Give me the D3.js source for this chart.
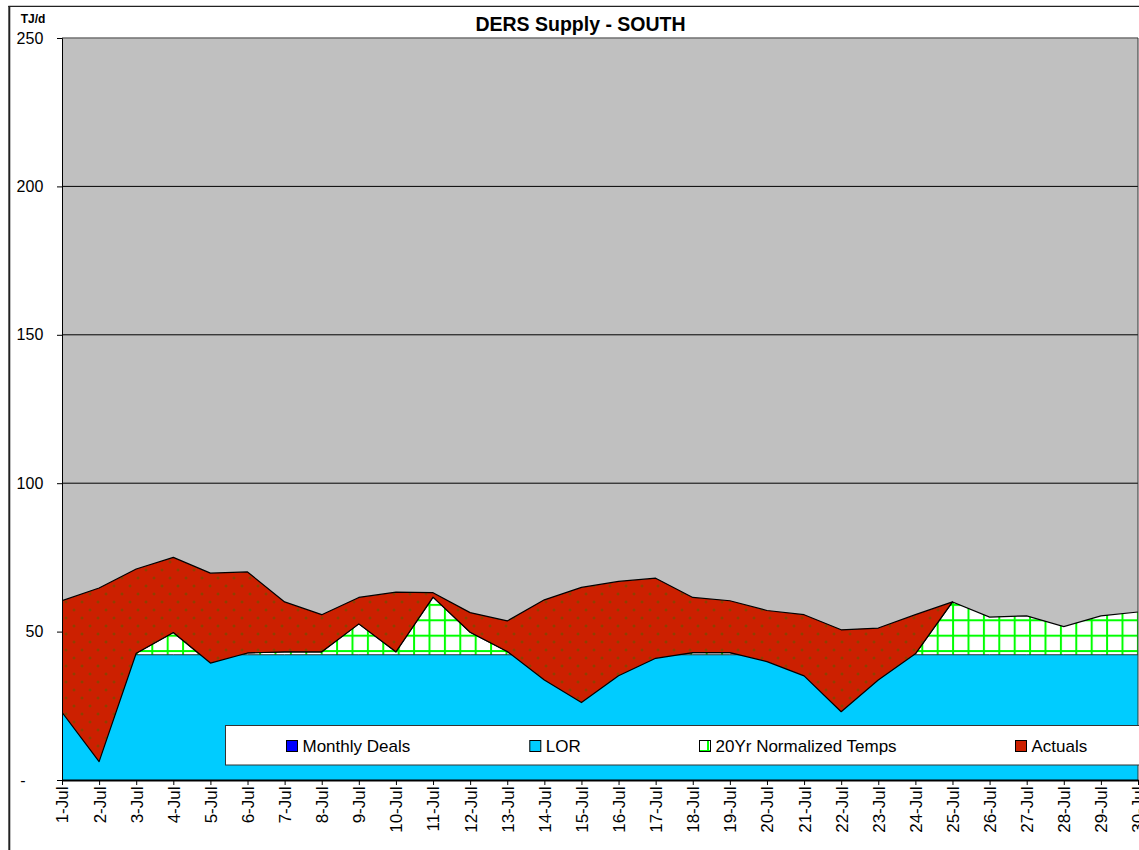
<!DOCTYPE html>
<html>
<head>
<meta charset="utf-8">
<script src="https://cdn.jsdelivr.net/npm/d3@7"></script>
<style>
  body { margin: 0; background: #fff; }
  svg { display: block; }
  text { font-family: Arial, "Liberation Sans", sans-serif; fill: #000; }
</style>
</head>
<body>
<svg id="chart" width="1139" height="850"></svg>
<script>
// DERS Supply - SOUTH, daily TJ/d for July

const days = ['1-Jul', '2-Jul', '3-Jul', '4-Jul', '5-Jul', '6-Jul', '7-Jul', '8-Jul', '9-Jul', '10-Jul',
    '11-Jul', '12-Jul', '13-Jul', '14-Jul', '15-Jul', '16-Jul', '17-Jul', '18-Jul', '19-Jul', '20-Jul',
    '21-Jul', '22-Jul', '23-Jul', '24-Jul', '25-Jul', '26-Jul', '27-Jul', '28-Jul', '29-Jul', '30-Jul'];

const monthlyDeals = [0, 0, 0, 0, 0, 0, 0, 0, 0, 0, 0, 0, 0, 0, 0, 0, 0, 0, 0, 0, 0, 0, 0, 0, 0, 0, 0, 0, 0, 0];

const lor = [42.2, 42.2, 42.2, 42.2, 42.2, 42.2, 42.2, 42.2, 42.2, 42.2, 42.2, 42.2, 42.2, 42.2, 42.2,
    42.2, 42.2, 42.2, 42.2, 42.2, 42.2, 42.2, 42.2, 42.2, 42.2, 42.2, 42.2, 42.2, 42.2, 42.2];

const normalized = [22.8, 6.2, 42.7, 49.7, 39.4, 42.8, 43.2, 43.2, 52.6, 43.2,
    61.6, 49.8, 43.3, 33.7, 26.1, 35.1, 41.0, 42.9, 42.9, 39.9,
    35.1, 23.0, 33.7, 42.5, 60.0, 54.9, 55.3, 51.7, 55.3, 56.6];

const actuals = [60.4, 64.7, 71.1, 75.0, 69.7, 70.1, 60.0, 55.7, 61.5, 63.3,
    63.1, 56.4, 53.6, 60.7, 64.9, 66.9, 68.0, 61.5, 60.4, 57.1,
    55.7, 50.6, 51.2, 55.7, 60.0, null, null, null, null, null];

const seriesNames = ['Monthly Deals', 'LOR', '20Yr Normalized Temps', 'Actuals'];
const yTicks = [0, 50, 100, 150, 200, 250];

const colors = {
    deals: '#0000FF',
    lor: '#00CCFF',
    norm: '#00FF00',
    actuals: '#CC2000',
    plotBg: '#C0C0C0'
};

const svg = d3.select('#chart');
const margin = { top: 38, left: 62 };
const width = 1076;
const height = 742;

// outer chart border (right/bottom edges fall outside the picture)
svg.append('line').attr('x1', 9.3).attr('x2', 9.3).attr('y1', 6).attr('y2', 850)
    .attr('stroke', '#222').attr('stroke-width', 2);
svg.append('line').attr('x1', 8.3).attr('x2', 1139).attr('y1', 6.3).attr('y2', 6.3)
    .attr('stroke', '#222').attr('stroke-width', 1.3);

// patterns
const defs = svg.append('defs');
const hatch = defs.append('pattern')
    .attr('id', 'hatch')
    .attr('patternUnits', 'userSpaceOnUse')
    .attr('width', 15.4).attr('height', 15.4)
    .attr('x', 12.3).attr('y', 11.5);
hatch.append('rect').attr('width', 15.4).attr('height', 15.4).attr('fill', '#fff');
hatch.append('rect').attr('x', 0).attr('y', 0).attr('width', 2).attr('height', 15.4).attr('fill', colors.norm);
hatch.append('rect').attr('x', 0).attr('y', 0).attr('width', 15.4).attr('height', 2).attr('fill', colors.norm);

const dots = defs.append('pattern')
    .attr('id', 'dots')
    .attr('patternUnits', 'userSpaceOnUse')
    .attr('width', 16).attr('height', 16);
dots.append('rect').attr('width', 16).attr('height', 16).attr('fill', colors.actuals);
[[4, 4], [12, 12]].forEach(([cx, cy]) => {
    dots.append('path')
        .attr('d', `M${cx - 1.5},${cy}h3M${cx},${cy - 1.5}v3`)
        .attr('stroke', '#7a4a00').attr('stroke-width', 1);
});

defs.append('clipPath').attr('id', 'plot-clip')
    .append('rect').attr('width', width).attr('height', height);

const g = svg.append('g').attr('transform', `translate(${margin.left},${margin.top})`);

const x = d3.scalePoint().domain(days).range([0, width]);
const y = d3.scaleLinear().domain([0, 250]).range([height, 0]);

// plot background + gridlines
g.append('rect').attr('width', width).attr('height', height).attr('fill', colors.plotBg);
g.append('g')
    .selectAll('line')
    .data(yTicks.filter(t => t > 0 && t < 250))
    .enter().append('line')
    .attr('x1', 0).attr('x2', width)
    .attr('y1', d => y(d)).attr('y2', d => y(d))
    .attr('stroke', '#000').attr('stroke-width', 1);

const plot = g.append('g').attr('clip-path', 'url(#plot-clip)');
const idx = d3.range(days.length);

// 20Yr normalized temps (hatched)
plot.append('path')
    .datum(idx)
    .attr('d', d3.area().x(i => x(days[i])).y0(height).y1(i => y(normalized[i])))
    .attr('fill', 'url(#hatch)');
plot.append('path')
    .datum(idx)
    .attr('d', d3.line().x(i => x(days[i])).y(i => y(normalized[i])))
    .attr('fill', 'none').attr('stroke', '#000').attr('stroke-width', 1.2);

// LOR
plot.append('path')
    .datum(idx)
    .attr('d', d3.area().x(i => x(days[i])).y0(height).y1(i => y(lor[i])))
    .attr('fill', colors.lor);
plot.append('path')
    .datum(idx)
    .attr('d', d3.line().x(i => x(days[i])).y(i => y(lor[i])))
    .attr('fill', 'none').attr('stroke', '#333').attr('stroke-width', 1);

// Monthly deals (all zero)
plot.append('path')
    .datum(idx)
    .attr('d', d3.area().x(i => x(days[i])).y0(height).y1(i => y(monthlyDeals[i])))
    .attr('fill', colors.deals);

// Actuals band, on top of normalized
plot.append('path')
    .datum(idx.filter(i => actuals[i] != null))
    .attr('d', d3.area().x(i => x(days[i])).y0(i => y(normalized[i])).y1(i => y(actuals[i])))
    .attr('fill', 'url(#dots)')
    .attr('stroke', '#000').attr('stroke-width', 1.2).attr('stroke-linejoin', 'round');

// plot frame
g.append('line').attr('x1', 0).attr('x2', width).attr('y1', 0).attr('y2', 0)
    .attr('stroke', '#707070').attr('stroke-width', 1.5);
g.append('line').attr('x1', width).attr('x2', width).attr('y1', 0).attr('y2', height)
    .attr('stroke', '#333').attr('stroke-width', 1);

// axes
const yAxis = g.append('g')
    .call(d3.axisLeft(y).tickValues(yTicks).tickSize(5).tickPadding(13.7)
        .tickFormat(d => d === 0 ? '-' : d));
yAxis.select('.domain').attr('stroke', '#000');
yAxis.selectAll('text').attr('font-size', 16).attr('font-family', 'Arial, "Liberation Sans", sans-serif');
yAxis.selectAll('.tick').filter(d => d === 0).select('text')
    .attr('x', -39).attr('text-anchor', 'middle');

const xAxis = g.append('g')
    .attr('transform', `translate(0,${height})`)
    .call(d3.axisBottom(x).tickSize(5).tickSizeOuter(0));
xAxis.select('.domain').attr('stroke', '#000').attr('stroke-width', 2);
xAxis.selectAll('line').attr('stroke', '#000');
xAxis.selectAll('text')
    .attr('font-size', 17)
    .attr('font-family', 'Arial, "Liberation Sans", sans-serif')
    .attr('transform', 'rotate(-90)')
    .attr('text-anchor', 'end')
    .attr('x', -6.5).attr('y', 0).attr('dy', '0.35em');

// titles
svg.append('text')
    .attr('x', 580.5).attr('y', 30.7)
    .attr('text-anchor', 'middle')
    .attr('font-size', 19.5).attr('font-weight', 'bold')
    .text('DERS Supply - SOUTH');
svg.append('text')
    .attr('x', 20.7).attr('y', 23.3)
    .attr('font-size', 12).attr('font-weight', 'bold')
    .text('TJ/d');

// legend
const legend = svg.append('g');
legend.append('rect')
    .attr('x', 225.5).attr('y', 725.5).attr('width', 930).attr('height', 39.5)
    .attr('fill', '#fff').attr('stroke', '#333').attr('stroke-width', 1);

const legendX = [286, 529.3, 699, 1015];
const swatchFill = [colors.deals, colors.lor, '#fff', colors.actuals];
seriesNames.forEach((name, i) => {
    const item = legend.append('g').attr('transform', `translate(${legendX[i]},740)`);
    item.append('rect').attr('x', 0.5).attr('y', 0.5).attr('width', 11).attr('height', 11)
        .attr('fill', swatchFill[i]).attr('stroke', '#000').attr('stroke-width', 1);
    if (i === 2) {
        item.append('line').attr('x1', 9).attr('x2', 9).attr('y1', 1).attr('y2', 11)
            .attr('stroke', colors.norm).attr('stroke-width', 2);
        item.append('line').attr('x1', 1).attr('x2', 11).attr('y1', 10.5).attr('y2', 10.5)
            .attr('stroke', colors.norm).attr('stroke-width', 1);
    }
    item.append('text')
        .attr('x', 16.5).attr('y', 12)
        .attr('font-size', 17)
        .text(name);
});
</script>
</body>
</html>
